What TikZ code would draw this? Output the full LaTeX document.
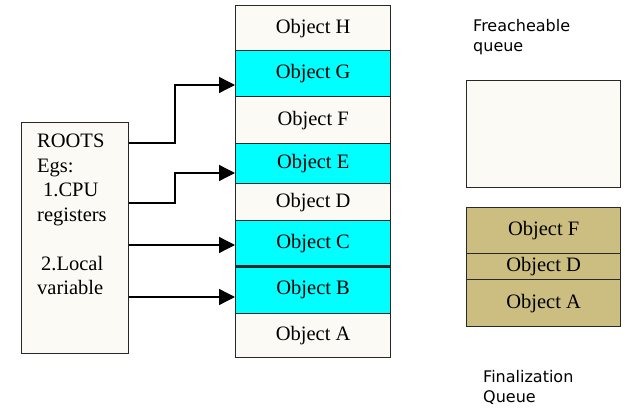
\documentclass[tikz,border=0pt]{standalone}
\usepackage{fontspec}
\setmainfont{Liberation Serif}
\newfontfamily\sansf{DejaVu Sans}
\usetikzlibrary{arrows.meta}
\definecolor{cream}{RGB}{252,250,244}
\definecolor{cyanfill}{RGB}{0,255,255}
\definecolor{khaki}{RGB}{204,190,128}
\definecolor{edge}{RGB}{40,40,40}
\begin{document}
\begin{tikzpicture}[x=1pt,y=-1pt,
  cell/.style={draw=edge, line width=1.3pt, minimum width=155pt, anchor=north west,
    inner sep=0pt, font=\fontsize{20.5}{22}\selectfont},
  plain/.style={cell, fill=cream},
  live/.style={cell, fill=cyanfill},
  fin/.style={cell, fill=khaki, minimum width=154pt},
  arr/.style={line width=1.4pt, -{Triangle[length=16pt,width=16pt]}},
  qlabel/.style={anchor=north west, align=left, inner sep=0pt,
    font=\sansf\fontsize{16}{20}\selectfont}]
\useasboundingbox (0,0) rectangle (625,409);
% heap
\node[plain, minimum height=45pt] (H) at (235,5)   {Object H};
\node[live,  minimum height=46pt] (G) at (235,50)  {Object G};
\node[plain, minimum height=47pt] (F) at (235,96)  {Object F};
\node[live,  minimum height=40pt] (E) at (235,143) {Object E};
\node[plain, minimum height=37pt] (D) at (235,183) {Object D};
\node[live,  minimum height=45pt] (C) at (235,220) {Object C};
\node[live,  minimum height=48pt] (B) at (235,265) {Object B};
\node[plain, minimum height=44pt] (A) at (235,313) {Object A};
\draw[edge, line width=2.6pt] (C.south west) -- (C.south east);
% roots
\node[draw=edge, line width=1.3pt, fill=cream, minimum width=107pt, minimum height=231pt,
  anchor=north west, inner sep=0pt] (R) at (21,122) {};
\node[anchor=north west, align=left, inner sep=0pt,
  font=\fontsize{20.5}{24.5}\selectfont] (Rtxt) at (37,134)
  {ROOTS\\Egs:\\\hspace*{6pt}1.CPU\\registers\\[24.5pt]\hspace*{4pt}2.Local\\variable};
% arrows
\draw[arr] (R.east |- 0,143) -- (175,143) |- (G.west |- 0,85);
\draw[arr] (R.east |- 0,203) -- (175,203) |- (E.west |- 0,173);
\draw[arr] (R.east |- 0,245) -- (C.west |- 0,245);
\draw[arr] (R.east |- 0,297) -- (B.west |- 0,297);
% freachable queue
\node[qlabel] (fqt) at (473,19) {Freacheable\\queue};
\node[draw=edge, line width=1.3pt, fill=cream, minimum width=154pt, minimum height=107pt,
  anchor=north west, inner sep=0pt] (FQ) at (466,80) {};
% finalization queue
\node[fin, minimum height=46pt] (QF) at (466,207) {Object F};
\node[fin, minimum height=26pt] (QD) at (466,253) {Object D};
\node[fin, minimum height=47pt] (QA) at (466,279) {Object A};
\node[qlabel] (fnt) at (483,370) {Finalization\\Queue};
\end{tikzpicture}
\end{document}
